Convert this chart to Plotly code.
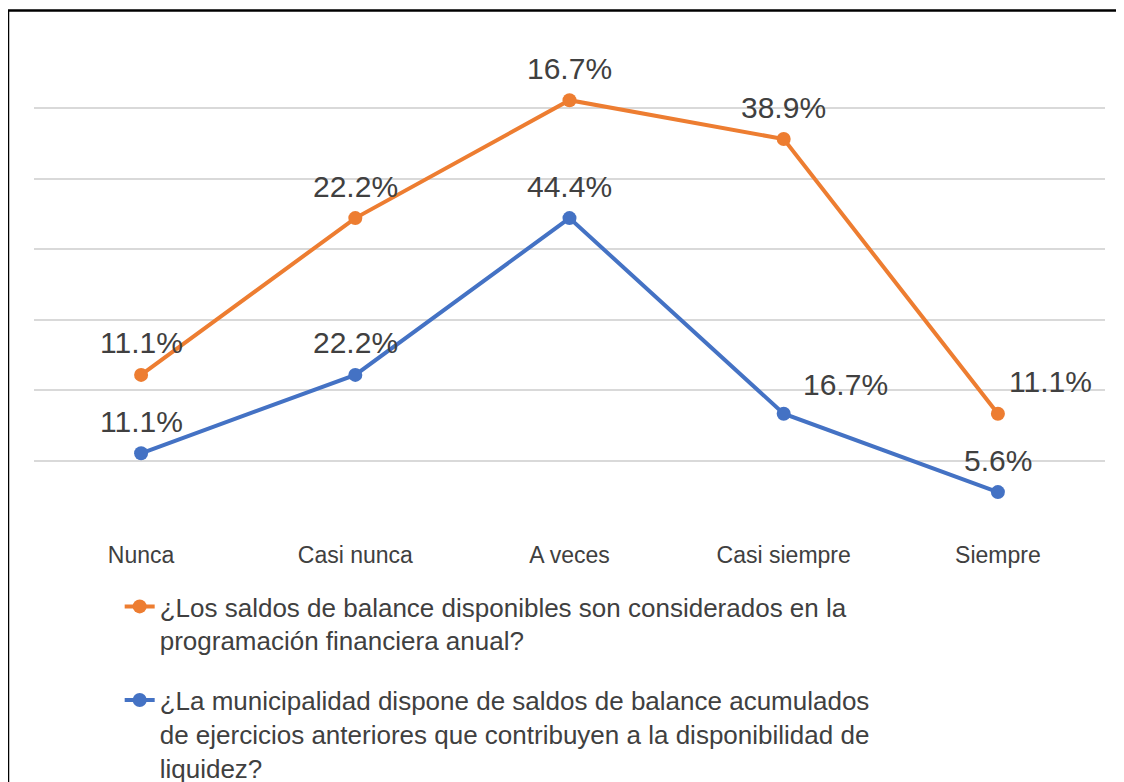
import numpy as np
import plotly.graph_objects as go

categories = ["Nunca", "Casi nunca", "A veces", "Casi siempre", "Siempre"]
saldos_considerados = [11.1, 22.2, 16.7, 38.9, 11.1]
saldos_acumulados = [11.1, 22.2, 44.4, 16.7, 5.6]

name_saldos_considerados = ("¿Los saldos de balance disponibles son considerados en la<br>"
                            "programación financiera anual?")
name_saldos_acumulados = ("¿La municipalidad dispone de saldos de balance acumulados<br>"
                          "de ejercicios anteriores que contribuyen a la disponibilidad de<br>"
                          "liquidez?")

ORANGE = "#ED7D31"
BLUE = "#4472C4"
TEXT = "#404040"
FONT = "Arial, 'Liberation Sans', sans-serif"

# the page body adds an 8px margin, so the figure is 8px smaller than the window
W, H = 1116, 774
M = dict(l=26, r=19, t=29, b=250, autoexpand=False)

# label nudges (px) for the two labels moved off the point in the original
orange_xshift = [0, 0, 0, 0, 53]
blue_xshift = [0, 0, 0, 62, 0]
blue_yshift = [32, 32, 32, 29, 32]

fig = go.Figure()

# blue is the base of the stack, orange sits on top of it
fig.add_trace(go.Scatter(
    x=categories, y=saldos_acumulados, name=name_saldos_acumulados,
    stackgroup="s", fill="none", mode="lines+markers",
    line=dict(color=BLUE, width=4), marker=dict(size=14, color=BLUE),
    legendrank=2, legendgroup="b", hoverinfo="skip",
))
fig.add_trace(go.Scatter(
    x=categories, y=saldos_considerados, name=name_saldos_considerados,
    stackgroup="s", fill="none", mode="lines+markers",
    line=dict(color=ORANGE, width=4), marker=dict(size=14, color=ORANGE),
    legendrank=1, legendgroup="a", hoverinfo="skip",
))

stack_top = np.array(saldos_acumulados) + np.array(saldos_considerados)

annotations = []
for i, cat in enumerate(categories):
    annotations.append(dict(
        x=cat, y=saldos_acumulados[i], text=f"{saldos_acumulados[i]:.1f}%",
        showarrow=False, yshift=blue_yshift[i], xshift=blue_xshift[i],
        font=dict(size=30, color=TEXT, family=FONT),
    ))
    annotations.append(dict(
        x=cat, y=stack_top[i], text=f"{saldos_considerados[i]:.1f}%",
        showarrow=False, yshift=32, xshift=orange_xshift[i],
        font=dict(size=30, color=TEXT, family=FONT),
    ))

# outer frame (only left and top edges fall inside the picture)
pw = W - M["l"] - M["r"]
ph = H - M["t"] - M["b"]
frame = dict(
    type="rect", xref="paper", yref="paper", layer="above",
    x0=(0 - M["l"]) / pw, x1=(W + 20 - M["l"]) / pw,
    y0=-(H + 20 - M["t"] - ph) / ph, y1=1 + (M["t"] - 2.5) / ph,
    line=dict(color="black", width=2.5),
)

fig.update_layout(
    width=W, height=H, margin=M,
    paper_bgcolor="white", plot_bgcolor="white",
    font=dict(family=FONT, color=TEXT),
    showlegend=True,
    legend=dict(
        orientation="v", x=0.08, xanchor="left", y=-0.103, yanchor="top",
        font=dict(size=26, color=TEXT, family=FONT),
        valign="top", tracegroupgap=23, traceorder="grouped",
        bgcolor="rgba(0,0,0,0)",
    ),
    xaxis=dict(
        range=[-0.5, 4.5],
        showgrid=False, showline=False, ticks="",
        tickfont=dict(size=23, color=TEXT, family=FONT),
        ticklabelstandoff=7,
    ),
    yaxis=dict(
        range=[-0.05, 70.05], tickvals=[0, 10, 20, 30, 40, 50, 60, 70],
        showticklabels=False,
        showgrid=True, gridcolor="#d9d9d9", gridwidth=1.5,
        zeroline=False, showline=False,
    ),
    annotations=annotations,
    shapes=[frame],
)

fig.write_html("out.html")
